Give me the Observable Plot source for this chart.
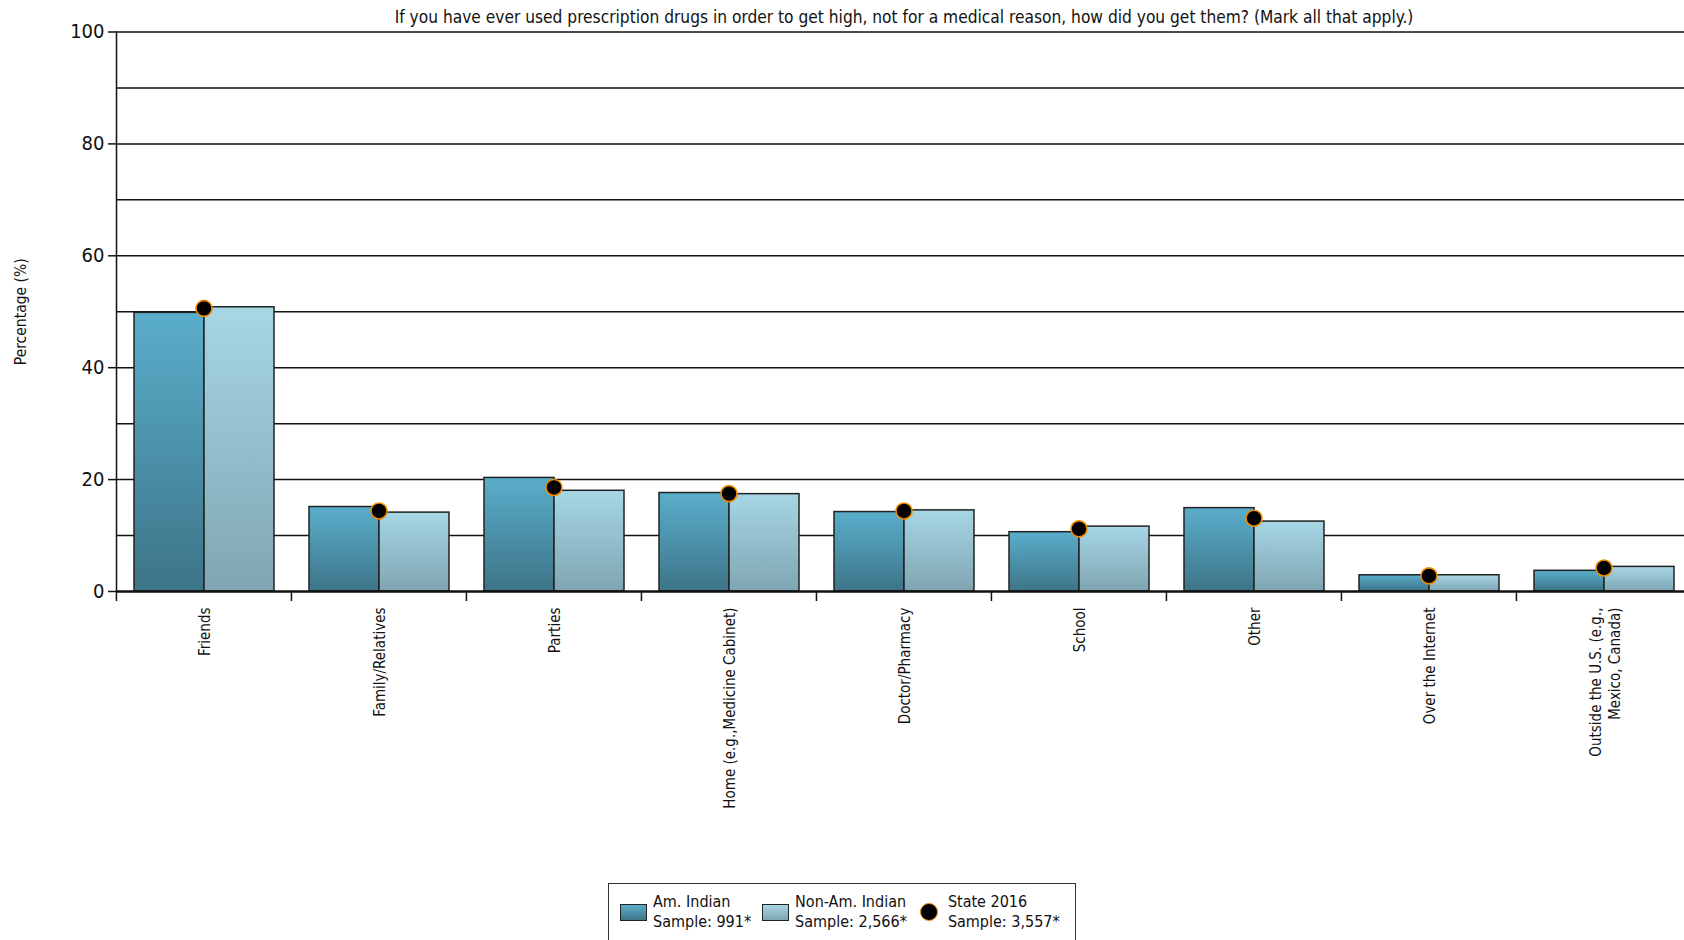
<!DOCTYPE html>
<html><head><meta charset="utf-8">
<script src="https://cdn.jsdelivr.net/npm/d3@7"></script>
<script src="https://cdn.jsdelivr.net/npm/@observablehq/plot@0.6"></script>
<style>
  html,body{margin:0;padding:0;background:#fff;overflow:hidden;}
  body{font-family:"Liberation Sans Narrow","DejaVu Sans Condensed","Open Sans",sans-serif;color:#111;}
  #chart svg{display:block;}
  #legend{width:468px;margin:8px auto 0 auto;border:1.5px solid #333;box-sizing:border-box;display:flex;align-items:center;padding:8px 0 8px 11px;gap:11px;font-size:16px;line-height:20px;}
  #legend .item{display:flex;align-items:center;}
  #legend .sw{display:inline-block;width:27px;height:17px;border:1.3px solid #222;box-sizing:border-box;margin-right:6px;}
  #legend .dot{display:inline-block;width:18px;height:18px;border-radius:50%;background:#000;border:1.6px solid #f08a00;box-sizing:border-box;margin:0 10px 0 2px;}
</style></head>
<body>
<div id="chart"></div>
<div id="legend"></div>
<script>
const title = "If you have ever used prescription drugs in order to get high, not for a medical reason, how did you get them? (Mark all that apply.)";
const yLabel = "Percentage (%)";
const categories = ["Friends","Family/Relatives","Parties","Home (e.g.,Medicine Cabinet)","Doctor/Pharmacy","School","Other","Over the Internet","Outside the U.S. (e.g.,\nMexico, Canada)"];
const seriesNames = ["Am. Indian","Non-Am. Indian","State 2016"];
const sampleLabels = ["Sample: 991*","Sample: 2,566*","Sample: 3,557*"];
const amIndian    = [49.8, 15.1, 20.3, 17.6, 14.2, 10.6, 14.9, 2.9, 3.7];
const nonAmIndian = [50.8, 14.1, 18.0, 17.4, 14.5, 11.6, 12.5, 2.9, 4.4];
const state2016   = [50.6, 14.4, 18.6, 17.5, 14.4, 11.2, 13.1, 2.8, 4.2];
const yTicks = [0, 20, 40, 60, 80, 100];
const gridValues = [10, 20, 30, 40, 50, 60, 70, 80, 90, 100];

const barRows = [];
categories.forEach((c, i) => {
  barRows.push({category: c, series: seriesNames[0], value: amIndian[i]});
  barRows.push({category: c, series: seriesNames[1], value: nonAmIndian[i]});
});
const dotRows = categories.map((c, i) => ({category: c, value: state2016[i]}));

const W = 1684, H = 875, mL = 115, mR = -7, mT = 31.5, mB = 284;
const facetStep = (W - mL - mR) / categories.length;
const gradId = {"Am. Indian": "gAI", "Non-Am. Indian": "gNAI"};
const fontFam = getComputedStyle(document.body).fontFamily;

const chart = Plot.plot({
  width: W, height: H,
  marginLeft: mL, marginRight: mR, marginTop: mT, marginBottom: mB,
  style: {fontFamily: fontFam, color: "#111", background: "#fff"},
  fx: {domain: categories, padding: 0, axis: null, label: null},
  x: {domain: seriesNames.slice(0, 2), paddingInner: 0, paddingOuter: 0.24, axis: null},
  y: {domain: [0, 100], axis: null},
  marks: [
    Plot.ruleY(gridValues, {stroke: "#111", strokeWidth: 1.5}),
    Plot.barY(barRows, {fx: "category", x: "series", y: "value",
      fill: d => `url(#${gradId[d.series]})`, stroke: "#222", strokeWidth: 1.5}),
    Plot.dot(dotRows, {fx: "category", y: "value", r: 8, fill: "#000", stroke: "#f08a00", strokeWidth: 1.6}),
    Plot.ruleY([0], {stroke: "#111", strokeWidth: 2.5}),
    Plot.frame({anchor: "left", facetAnchor: "left", stroke: "#111", strokeWidth: 1.5}),
    Plot.axisY({anchor: "left", ticks: yTicks, tickSize: 8, tickPadding: 4, fontSize: 20, label: null, stroke: "#111", strokeWidth: 1.5}),
    Plot.axisFx({anchor: "bottom", text: null, tickSize: 10, dx: -facetStep / 2, label: null, stroke: "#111", strokeWidth: 1.5}),
    Plot.axisFx({anchor: "bottom", tickSize: 0, tickPadding: 16, tickRotate: -90, fontSize: 15, lineHeight: 1.3, label: null}),
    Plot.text([title], {facet: "super", frameAnchor: "top", dy: -15, lineAnchor: "middle", fontSize: 17.2, fill: "#111"}),
    Plot.text([yLabel], {facet: "super", frameAnchor: "left", rotate: -90, dx: -95, textAnchor: "middle", lineAnchor: "middle", fontSize: 15.5, fill: "#111"})
  ]
});

// gradients
const ns = "http://www.w3.org/2000/svg";
const defs = document.createElementNS(ns, "defs");
const gradSpecs = [["gAI", "#5aaecb", "#3d7488"], ["gNAI", "#a7d6e5", "#7fa5b2"]];
for (const [id, top, bot] of gradSpecs) {
  const g = document.createElementNS(ns, "linearGradient");
  g.setAttribute("id", id); g.setAttribute("x1", "0"); g.setAttribute("y1", "0"); g.setAttribute("x2", "0"); g.setAttribute("y2", "1");
  for (const [o, c] of [["0", top], ["1", bot]]) {
    const s = document.createElementNS(ns, "stop");
    s.setAttribute("offset", o); s.setAttribute("stop-color", c);
    g.appendChild(s);
  }
  defs.appendChild(g);
}
chart.insertBefore(defs, chart.firstChild);
document.getElementById("chart").appendChild(chart);

// legend
const legend = document.getElementById("legend");
const swatchBg = ["linear-gradient(#5aaecb,#3d7488)", "linear-gradient(#a7d6e5,#7fa5b2)"];
seriesNames.forEach((name, i) => {
  const item = document.createElement("div");
  item.className = "item";
  const mark = document.createElement("span");
  if (i < 2) { mark.className = "sw"; mark.style.background = swatchBg[i]; }
  else { mark.className = "dot"; }
  const txt = document.createElement("span");
  txt.innerHTML = `${name}<br>${sampleLabels[i]}`;
  item.appendChild(mark); item.appendChild(txt);
  legend.appendChild(item);
});
</script>
</body></html>
